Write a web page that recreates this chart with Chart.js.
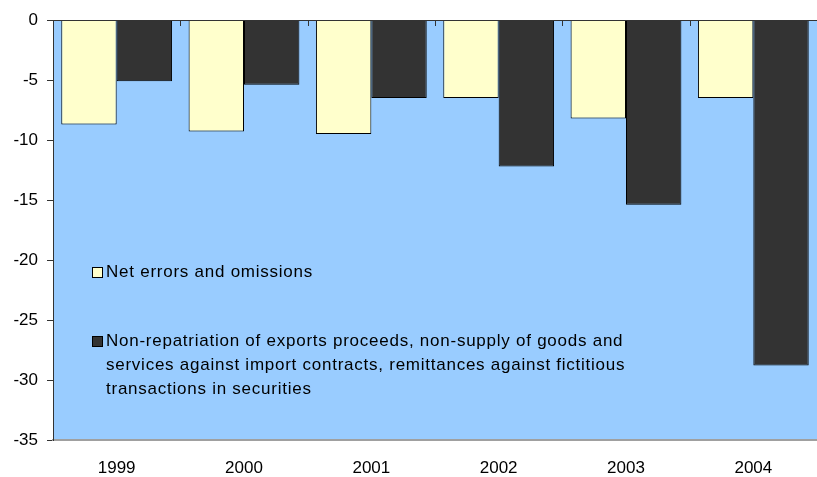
<!DOCTYPE html>
<html>
<head>
<meta charset="utf-8">
<script src="https://cdn.jsdelivr.net/npm/chart.js@4"></script>
<style>
  html, body { margin: 0; padding: 0; background: #fff; }
  #wrap { position: relative; width: 817px; height: 477px; }
  #legend { position: absolute; left: 92px; top: 0; font-family: "Liberation Sans", Arial, sans-serif;
            font-size: 17px; color: #000; letter-spacing: 0.75px; }
  .item { position: absolute; left: 0; white-space: nowrap; line-height: 24px; }
  .box { position: absolute; left: 0; top: 7px; width: 9px; height: 9px; border: 1px solid #000; }
  .txt { position: absolute; left: 14px; top: 0; }
</style>
</head>
<body>
<div id="wrap">
  <canvas id="chart" width="817" height="477"></canvas>
  <div id="legend"></div>
</div>
<script>
const years = ["1999", "2000", "2001", "2002", "2003", "2004"];
const netErrors = [-8.7, -9.3, -9.5, -6.5, -8.2, -6.5];
const nonRepatriation = [-5.1, -5.4, -6.5, -12.2, -15.4, -28.8];
const seriesNames = [
    ["Net errors and omissions"],
    ["Non-repatriation of exports proceeds, non-supply of goods and",
     "services against import contracts, remittances against fictitious",
     "transactions in securities"]
];
const seriesColors = ["#FFFFCC", "#333333"];

const plotBackground = {
    id: "plotBackground",
    beforeDraw(chart) {
        const a = chart.chartArea;
        const ctx = chart.ctx;
        ctx.save();
        ctx.fillStyle = "#99CCFF";
        ctx.fillRect(a.left, a.top, a.right - a.left, a.bottom - a.top);
        ctx.restore();
    },
    afterDatasetsDraw(chart) {
        const a = chart.chartArea;
        const ctx = chart.ctx;
        const x = chart.scales.x;
        ctx.save();
        ctx.strokeStyle = "#333333";
        ctx.lineWidth = 1;
        ctx.beginPath();
        ctx.moveTo(a.left, a.top + 0.5);
        ctx.lineTo(a.right, a.top + 0.5);
        // category tick marks along the zero line
        for (let i = 1; i < years.length; i++) {
            const px = Math.round((x.getPixelForValue(i - 1) + x.getPixelForValue(i)) / 2) + 0.5;
            ctx.moveTo(px, a.top);
            ctx.lineTo(px, a.top + 6);
        }
        ctx.stroke();
        ctx.restore();
    }
};

new Chart(document.getElementById("chart").getContext("2d"), {
    type: "bar",
    data: {
        labels: years,
        datasets: [{
            label: seriesNames[0].join(" "),
            data: netErrors,
            backgroundColor: seriesColors[0],
            borderColor: "#000000",
            borderWidth: 1
        }, {
            label: seriesNames[1].join(" "),
            data: nonRepatriation,
            backgroundColor: seriesColors[1],
            borderColor: "#000000",
            borderWidth: 1
        }]
    },
    options: {
        responsive: false,
        animation: false,
        layout: { padding: { top: 20, right: 0, left: 0, bottom: 0 } },
        datasets: { bar: { categoryPercentage: 0.87, barPercentage: 1.0 } },
        plugins: { legend: { display: false }, tooltip: { enabled: false } },
        scales: {
            x: {
                afterFit(scale) { scale.height = 37; },
                grid: { display: false },
                border: { color: "#A0A0A0", width: 2 },
                ticks: { color: "#000", font: { family: "Liberation Sans", size: 17 }, padding: 10 }
            },
            y: {
                min: -35,
                max: 0,
                afterFit(scale) { scale.width = 53; },
                grid: { drawOnChartArea: false, tickLength: 6, color: "#333333" },
                border: { color: "#333333" },
                ticks: { stepSize: 5, color: "#000", padding: 9,
                         font: { family: "Liberation Sans", size: 17 } }
            }
        }
    },
    plugins: [plotBackground]
});

const legendTops = [260, 329];
const legend = document.getElementById("legend");
seriesNames.forEach((lines, i) => {
    const item = document.createElement("div");
    item.className = "item";
    item.style.top = legendTops[i] + "px";
    const box = document.createElement("div");
    box.className = "box";
    box.style.background = seriesColors[i];
    const txt = document.createElement("div");
    txt.className = "txt";
    txt.innerHTML = lines.join("<br>");
    item.appendChild(box);
    item.appendChild(txt);
    legend.appendChild(item);
});
</script>
</body>
</html>
